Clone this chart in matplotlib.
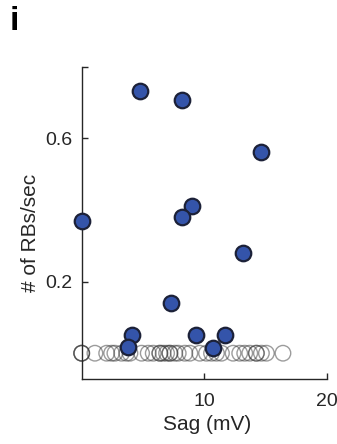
import matplotlib
matplotlib.use("Agg")
import matplotlib.pyplot as plt

plt.rcParams['font.family'] = ['Liberation Sans', 'DejaVu Sans']

# Cells with rebound bursts: sag (mV) vs. rebound bursts per second
burst_sag = [0.0, 4.76, 8.21, 14.64, 8.98, 8.21, 13.19, 7.27, 4.12, 3.80, 9.32, 11.68, 10.73]
burst_rate = [0.369, 0.733, 0.708, 0.561, 0.411, 0.379, 0.280, 0.140, 0.051, 0.017, 0.051, 0.051, 0.014]

# Cells without rebound bursts (rate = 0)
silent_sag = [0.0, 0.0, 0.0, 1.08, 2.04, 2.44, 2.71, 3.26, 3.67, 3.94, 4.89, 5.43, 5.84,
              6.38, 6.38, 6.65, 6.93, 7.20, 7.20, 7.60, 7.88, 8.42, 8.83, 9.64, 10.19,
              10.60, 11.00, 11.41, 12.36, 12.90, 13.31, 13.72, 14.26, 14.26, 14.67, 15.08, 16.43]
silent_rate = [0.0] * len(silent_sag)

x_ticks = [10, 20]
y_ticks = [0.2, 0.6, 0.8]
y_ticklabels = ['0.2', '0.6', '']

fig = plt.figure(figsize=(3.37, 4.44), dpi=100)
ax = fig.add_axes([0.2424, 0.1464, 0.7270, 0.7034])

ax.scatter(silent_sag, silent_rate, s=125, facecolors='none',
           edgecolors='#3a3a3a', linewidths=1.0, alpha=0.5, zorder=2, clip_on=False)
ax.scatter(burst_sag, burst_rate, s=125, facecolors='#3454aa',
           edgecolors='#1c2138', linewidths=1.6, zorder=3, clip_on=False)

ax.set_xlim(0, 20)
ax.set_ylim(-0.072, 0.8)
ax.set_xticks(x_ticks)
ax.set_yticks(y_ticks)
ax.set_yticklabels(y_ticklabels)

for side in ('top', 'right'):
    ax.spines[side].set_visible(False)
for side in ('left', 'bottom'):
    ax.spines[side].set_color('#262626')
    ax.spines[side].set_linewidth(1.0)

ax.tick_params(axis='both', direction='in', length=4, width=1.0,
               color='#262626', labelcolor='#262626', labelsize=14)
ax.tick_params(axis='x', pad=10)
ax.tick_params(axis='y', pad=7)

ax.set_xlabel('Sag (mV)', fontsize=15, color='#262626')
ax.set_ylabel('# of RBs/sec', fontsize=15, color='#262626')
ax.xaxis.set_label_coords(0.513, -0.147)
ax.yaxis.set_label_coords(-0.207, 0.467)
ax.xaxis.label.set_va('center')
ax.yaxis.label.set_va('center')

fig.text(10 / 337, 1 - 6 / 444, 'i', fontsize=24, fontweight='bold',
         ha='left', va='top')

fig.savefig('out.png', dpi=100)
